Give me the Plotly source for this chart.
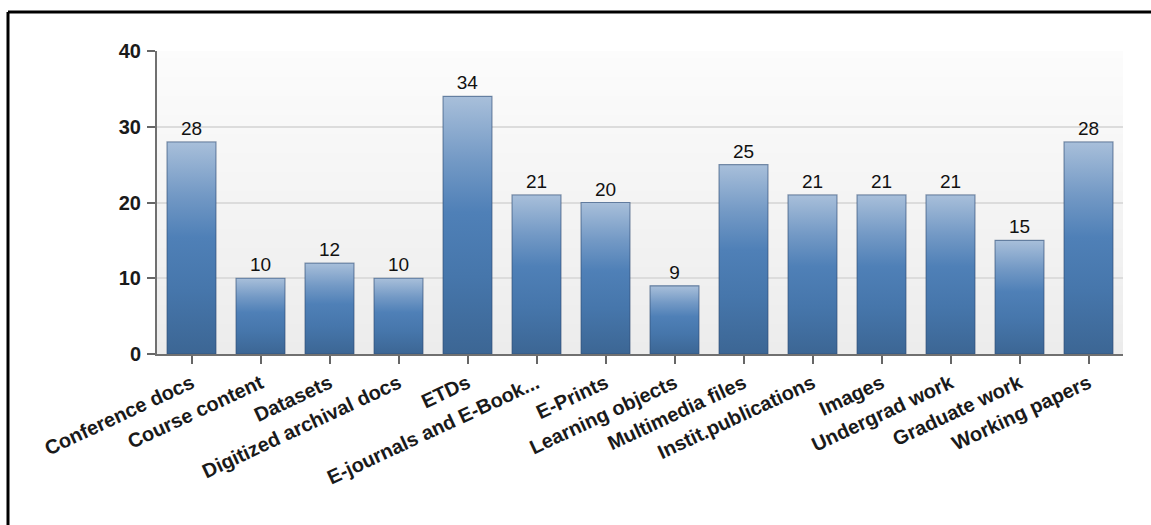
import base64
import struct
import zlib

import plotly.graph_objects as go

# Repository content types and number of repositories holding each
categories = [
    "Conference docs", "Course content", "Datasets", "Digitized archival docs",
    "ETDs", "E-journals and E-Book...", "E-Prints", "Learning objects",
    "Multimedia files", "Instit.publications", "Images", "Undergrad work",
    "Graduate work", "Working papers",
]
counts = [28, 10, 12, 10, 34, 21, 20, 9, 25, 21, 21, 21, 15, 28]
y_ticks = [0, 10, 20, 30, 40]

FONT = "Liberation Sans, Arial, sans-serif"
BAR_WIDTH = 0.71
BAR_SCALE = [
    [0.0, "#3c6694"], [0.3, "#4676ab"], [0.55, "#4f80b7"],
    [0.75, "#7399c5"], [1.0, "#a8bfda"],
]


def gradient_png(top_rgb, bottom_rgb, rows=64):
    """Tiny 1-pixel-wide vertical gradient PNG as a data URI."""
    raw = b""
    for i in range(rows):
        t = i / (rows - 1)
        raw += b"\x00" + bytes(round(a + (b - a) * t) for a, b in zip(top_rgb, bottom_rgb))

    def chunk(tag, data):
        return (struct.pack(">I", len(data)) + tag + data
                + struct.pack(">I", zlib.crc32(tag + data) & 0xFFFFFFFF))

    ihdr = struct.pack(">IIBBBBB", 1, rows, 8, 2, 0, 0, 0)
    png = (b"\x89PNG\r\n\x1a\n" + chunk(b"IHDR", ihdr)
           + chunk(b"IDAT", zlib.compress(raw)) + chunk(b"IEND", b""))
    return "data:image/png;base64," + base64.b64encode(png).decode()


fig = go.Figure()

# Base bars carrying the value labels
fig.add_trace(go.Bar(
    x=list(range(len(categories))), y=counts, width=BAR_WIDTH,
    marker=dict(color="#4f80b7", line=dict(width=0)),
    text=counts, textposition="outside", cliponaxis=False,
    textfont=dict(family=FONT, size=19, color="#111111"),
    hoverinfo="x+y", showlegend=False,
))

# Glossy vertical shading laid over each bar
half = BAR_WIDTH / 2
for i, v in enumerate(counts):
    fig.add_trace(go.Scatter(
        x=[i - half, i + half, i + half, i - half, i - half],
        y=[0, 0, v, v, 0],
        mode="lines", fill="toself",
        fillgradient=dict(type="vertical", colorscale=BAR_SCALE),
        line=dict(color="rgba(45,75,115,0.55)", width=1.2),
        hoverinfo="skip", showlegend=False,
    ))

# Outer frame (left and top edges)
frame_x = (8 - 157) / 966
frame_y = 1 + (51 - 12) / 303

fig.update_layout(
    width=1151, height=525,
    margin=dict(l=157, r=28, t=51, b=171),
    paper_bgcolor="white", plot_bgcolor="white",
    bargap=0.29,
    showlegend=False,
    font=dict(family=FONT, color="#1a1a1a"),
    images=[dict(
        source=gradient_png((252, 252, 252), (236, 236, 236)),
        xref="paper", yref="paper", x=0, y=1, sizex=1, sizey=1,
        xanchor="left", yanchor="top", sizing="stretch", layer="below",
    )],
    shapes=[
        dict(type="line", xref="paper", yref="paper", x0=frame_x, x1=frame_x,
             y0=frame_y, y1=-1, line=dict(color="black", width=3)),
        dict(type="line", xref="paper", yref="paper", x0=frame_x, x1=1.2,
             y0=frame_y, y1=frame_y, line=dict(color="black", width=3)),
    ],
    xaxis=dict(
        range=[-0.5, len(categories) - 0.5],
        tickmode="array", tickvals=list(range(len(categories))), ticktext=categories,
        tickangle=-25,
        tickfont=dict(family=FONT, size=20, color="#1a1a1a", weight="bold"),
        ticks="outside", ticklen=8, tickwidth=1.5, tickcolor="#666666",
        showline=True, linecolor="#707070", linewidth=2,
        showgrid=False, zeroline=False, fixedrange=True,
    ),
    yaxis=dict(
        range=[0, 40], tickmode="array", tickvals=y_ticks,
        tickfont=dict(family=FONT, size=20, color="#1a1a1a", weight="bold"),
        ticks="outside", ticklen=8, tickwidth=1.5, tickcolor="#666666",
        ticklabelstandoff=2,
        showline=True, linecolor="#707070", linewidth=2,
        showgrid=True, gridcolor="#dcdcdc", gridwidth=1.5,
        zeroline=False, fixedrange=True,
    ),
)

fig.write_html("out.html")
